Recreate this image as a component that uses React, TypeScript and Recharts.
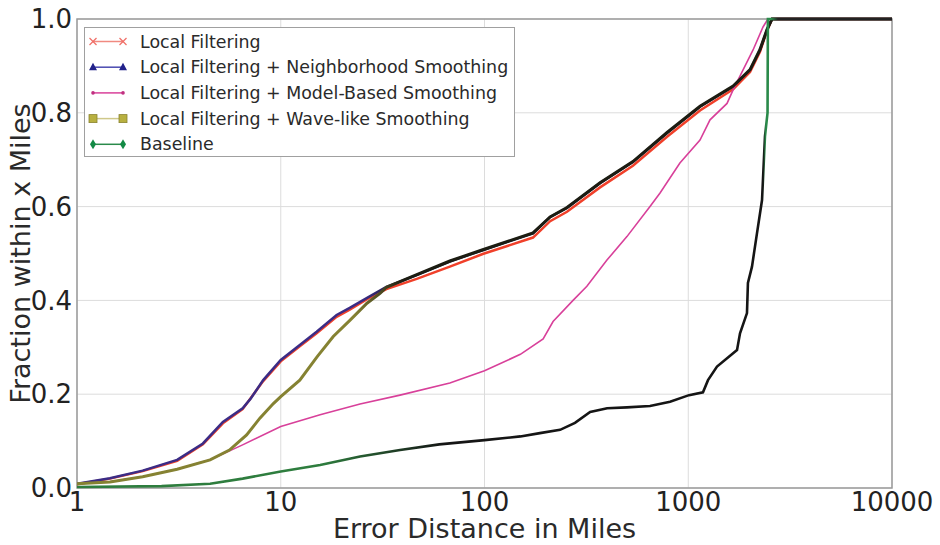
import { LineChart, Line, XAxis, YAxis, CartesianGrid, Legend, ReferenceArea, Label } from 'recharts';

const FONT = '"DejaVu Sans", Verdana, sans-serif';

const xTicks = [1, 10, 100, 1000, 10000];
const yTicks = [0, 0.2, 0.4, 0.6, 0.8, 1.0];

// (x in miles, y = fraction)
const localFiltering = [
  { x: 1, y: 0.008 }, { x: 1.45, y: 0.02 }, { x: 2.1, y: 0.036 }, { x: 3.1, y: 0.058 },
  { x: 4.15, y: 0.093 }, { x: 5.2, y: 0.138 }, { x: 6.5, y: 0.168 }, { x: 8.2, y: 0.228 },
  { x: 10, y: 0.27 }, { x: 12.4, y: 0.302 }, { x: 15, y: 0.33 }, { x: 18.8, y: 0.365 },
  { x: 21.8, y: 0.38 }, { x: 26.4, y: 0.402 }, { x: 33, y: 0.424 }, { x: 46.5, y: 0.446 },
  { x: 67.6, y: 0.472 }, { x: 98, y: 0.499 }, { x: 173, y: 0.534 }, { x: 210, y: 0.569 },
  { x: 254, y: 0.589 }, { x: 369, y: 0.641 }, { x: 535, y: 0.687 }, { x: 787, y: 0.749 },
  { x: 1142, y: 0.805 }, { x: 1660, y: 0.85 }, { x: 2010, y: 0.887 }, { x: 2250, y: 0.93 },
  { x: 2437, y: 0.975 }, { x: 2577, y: 1.0 }, { x: 10000, y: 1.0 },
];

const neighborhood = [
  { x: 1, y: 0.009 }, { x: 1.45, y: 0.021 }, { x: 2.1, y: 0.037 }, { x: 3.1, y: 0.06 },
  { x: 4.15, y: 0.095 }, { x: 5.2, y: 0.141 }, { x: 6.5, y: 0.17 }, { x: 7.1, y: 0.19 },
  { x: 8.2, y: 0.23 }, { x: 10, y: 0.273 }, { x: 12.4, y: 0.305 }, { x: 15, y: 0.333 },
  { x: 18.8, y: 0.369 }, { x: 21.8, y: 0.384 }, { x: 26.4, y: 0.405 }, { x: 33, y: 0.429 },
  { x: 46.5, y: 0.454 }, { x: 67.6, y: 0.483 }, { x: 98, y: 0.507 }, { x: 173, y: 0.543 },
  { x: 210, y: 0.578 }, { x: 254, y: 0.597 }, { x: 369, y: 0.65 }, { x: 535, y: 0.695 },
  { x: 787, y: 0.757 }, { x: 1142, y: 0.813 }, { x: 1660, y: 0.856 }, { x: 2010, y: 0.891 },
  { x: 2250, y: 0.934 }, { x: 2437, y: 0.977 }, { x: 2577, y: 1.0 }, { x: 10000, y: 1.0 },
];

const modelBased = [
  { x: 1, y: 0.009 }, { x: 1.45, y: 0.013 }, { x: 2.1, y: 0.024 }, { x: 3.1, y: 0.04 },
  { x: 4.5, y: 0.06 }, { x: 6.5, y: 0.092 }, { x: 10, y: 0.131 }, { x: 15.6, y: 0.156 },
  { x: 24.5, y: 0.179 }, { x: 38.5, y: 0.198 }, { x: 67.6, y: 0.224 }, { x: 100, y: 0.25 },
  { x: 150, y: 0.285 }, { x: 194, y: 0.318 }, { x: 217, y: 0.355 }, { x: 272, y: 0.4 },
  { x: 318, y: 0.43 }, { x: 399, y: 0.486 }, { x: 500, y: 0.536 }, { x: 649, y: 0.6 },
  { x: 727, y: 0.629 }, { x: 910, y: 0.693 }, { x: 1142, y: 0.742 }, { x: 1279, y: 0.785 },
  { x: 1550, y: 0.82 }, { x: 1660, y: 0.849 }, { x: 2080, y: 0.934 }, { x: 2328, y: 0.983 },
  { x: 2460, y: 1.0 }, { x: 10000, y: 1.0 },
];

const waveLike = [
  { x: 1, y: 0.009 }, { x: 1.45, y: 0.013 }, { x: 2.1, y: 0.024 }, { x: 3.1, y: 0.04 },
  { x: 4.5, y: 0.06 }, { x: 5.6, y: 0.081 }, { x: 6.8, y: 0.113 }, { x: 7.9, y: 0.149 },
  { x: 9.2, y: 0.18 }, { x: 10, y: 0.195 }, { x: 12.4, y: 0.23 }, { x: 15.1, y: 0.28 },
  { x: 18.1, y: 0.323 }, { x: 21.9, y: 0.358 }, { x: 26.5, y: 0.394 }, { x: 30.7, y: 0.415 },
  { x: 33, y: 0.428 }, { x: 46.5, y: 0.455 }, { x: 67.6, y: 0.484 }, { x: 98, y: 0.508 },
  { x: 173, y: 0.544 }, { x: 210, y: 0.578 }, { x: 254, y: 0.598 }, { x: 369, y: 0.651 },
  { x: 535, y: 0.696 }, { x: 787, y: 0.758 }, { x: 1142, y: 0.814 }, { x: 1660, y: 0.857 },
  { x: 2010, y: 0.892 }, { x: 2250, y: 0.935 }, { x: 2437, y: 0.978 }, { x: 2577, y: 1.0 },
  { x: 10000, y: 1.0 },
];

const baseline = [
  { x: 1, y: 0.002 }, { x: 2.6, y: 0.004 }, { x: 4.5, y: 0.009 }, { x: 6.5, y: 0.02 },
  { x: 10, y: 0.035 }, { x: 15.6, y: 0.049 }, { x: 24.5, y: 0.067 }, { x: 38.5, y: 0.081 },
  { x: 60, y: 0.093 }, { x: 100, y: 0.102 }, { x: 150, y: 0.11 }, { x: 187, y: 0.117 },
  { x: 235, y: 0.124 }, { x: 278, y: 0.139 }, { x: 330, y: 0.162 }, { x: 400, y: 0.17 },
  { x: 500, y: 0.172 }, { x: 649, y: 0.175 }, { x: 814, y: 0.184 }, { x: 1009, y: 0.198 },
  { x: 1181, y: 0.204 }, { x: 1250, y: 0.23 }, { x: 1384, y: 0.259 }, { x: 1735, y: 0.294 },
  { x: 1795, y: 0.33 }, { x: 1942, y: 0.373 }, { x: 1963, y: 0.437 }, { x: 2055, y: 0.472 },
  { x: 2174, y: 0.543 }, { x: 2302, y: 0.614 }, { x: 2380, y: 0.75 }, { x: 2450, y: 0.8 },
  { x: 2460, y: 1.0 }, { x: 10000, y: 1.0 },
];

const series = [
  { key: 'lf', name: 'Local Filtering', data: localFiltering, stroke: '#f0402a', width: 2.5, line: '#f08a80', marker: 'x', mark: '#f07068' },
  { key: 'ns', name: 'Local Filtering + Neighborhood Smoothing', data: neighborhood, stroke: 'url(#gradNs)', width: 2.5, line: '#4a4ab0', marker: 'triangle', mark: '#22228a' },
  { key: 'mb', name: 'Local Filtering + Model-Based Smoothing', data: modelBased, stroke: '#d8409a', width: 1.6, line: '#d8409a', marker: 'dot', mark: '#c03080' },
  { key: 'wl', name: 'Local Filtering + Wave-like Smoothing', data: waveLike, stroke: 'url(#gradWl)', width: 3, line: '#cfc88a', marker: 'square', mark: '#b8b040' },
  { key: 'bl', name: 'Baseline', data: baseline, stroke: 'url(#gradBl)', width: 2.6, line: '#2a8a4a', marker: 'diamond', mark: '#138a45' },
];

const Marker = ({ type, cx, cy, color }: any) => {
  if (type === 'x') {
    return (
      <g stroke={color} strokeWidth={1.2}>
        <line x1={cx - 3.5} y1={cy - 3.5} x2={cx + 3.5} y2={cy + 3.5} />
        <line x1={cx - 3.5} y1={cy + 3.5} x2={cx + 3.5} y2={cy - 3.5} />
      </g>
    );
  }
  if (type === 'triangle') {
    return <polygon points={`${cx},${cy - 4.5} ${cx - 4},${cy + 3} ${cx + 4},${cy + 3}`} fill={color} />;
  }
  if (type === 'dot') return <circle cx={cx} cy={cy} r={1.8} fill={color} />;
  if (type === 'square') {
    return <rect x={cx - 4} y={cy - 4} width={8} height={8} fill={color} stroke="#8a8430" strokeWidth={0.8} />;
  }
  return <polygon points={`${cx},${cy - 5} ${cx - 3},${cy} ${cx},${cy + 5} ${cx + 3},${cy}`} fill={color} />;
};

const LegendBox = () => (
  <div style={{ width: 431, height: 130, border: '1.5px solid #a0a0a0', background: '#fff', boxSizing: 'border-box' }}>
    <svg width={428} height={127} style={{ display: 'block' }}>
      {series.map((s, i) => {
        const cy = 13.5 + i * 25.7;
        return (
          <g key={s.key}>
            <line x1={8} y1={cy} x2={38} y2={cy} stroke={s.line} strokeWidth={1.5} />
            <Marker type={s.marker} cx={8} cy={cy} color={s.mark} />
            <Marker type={s.marker} cx={38} cy={cy} color={s.mark} />
            <text x={55} y={cy} dominantBaseline="central" fontSize={17.4} fontFamily={FONT} fill="#2a2a2a">
              {s.name}
            </text>
          </g>
        );
      })}
    </svg>
  </div>
);

const XTitle = ({ viewBox }: any) => (
  <text x={viewBox.x + viewBox.width / 2} y={538} textAnchor="middle" fontSize={27} fontFamily={FONT} fill="#2a2a2a">
    Error Distance in Miles
  </text>
);

const YTitle = ({ viewBox }: any) => {
  const cy = viewBox.y + viewBox.height / 2;
  return (
    <text x={20} y={cy} transform={`rotate(-90 20 ${cy})`} textAnchor="middle" dominantBaseline="central" fontSize={27} fontFamily={FONT} fill="#2a2a2a">
      Fraction within x Miles
    </text>
  );
};

export default function App() {
  return (
    <div style={{ position: 'absolute', left: 0, top: 0, width: 940, height: 545, background: '#fff' }}>
      <LineChart width={940} height={545} margin={{ top: 19, right: 48, bottom: 0, left: 0 }}>
        <defs>
          <linearGradient id="gradNs" x1="0" y1="0" x2="1" y2="0">
            <stop offset="0" stopColor="#3b2c86" />
            <stop offset="0.35" stopColor="#3b2c86" />
            <stop offset="0.4" stopColor="#181830" />
            <stop offset="1" stopColor="#181830" />
          </linearGradient>
          <linearGradient id="gradWl" x1="0" y1="0" x2="1" y2="0">
            <stop offset="0" stopColor="#858232" />
            <stop offset="0.34" stopColor="#858232" />
            <stop offset="0.4" stopColor="#1c1c12" />
            <stop offset="1" stopColor="#1c1c12" />
          </linearGradient>
          <linearGradient id="gradBl" x1="0" y1="0" x2="1" y2="0">
            <stop offset="0" stopColor="#2e7d3e" />
            <stop offset="0.3" stopColor="#2e7d3e" />
            <stop offset="0.45" stopColor="#151515" />
            <stop offset="0.842" stopColor="#151515" />
            <stop offset="0.845" stopColor="#2a8a4a" />
            <stop offset="0.852" stopColor="#2a8a4a" />
            <stop offset="0.86" stopColor="#222" />
            <stop offset="1" stopColor="#222" />
          </linearGradient>
        </defs>
        <CartesianGrid stroke="#dcdcdc" strokeWidth={1} />
        <XAxis
          dataKey="x"
          type="number"
          scale="log"
          domain={[1, 10000]}
          ticks={xTicks}
          allowDataOverflow
          height={57}
          axisLine={false}
          tickLine={false}
          tickSize={0}
          tickMargin={5}
          tick={{ fontSize: 26, fontFamily: FONT, fill: '#222' }}
          label={<Label content={XTitle} />}
        />
        <YAxis
          type="number"
          domain={[0, 1]}
          ticks={yTicks}
          width={77}
          axisLine={false}
          tickLine={false}
          tickSize={0}
          tickMargin={5}
          tickFormatter={(v: number) => v.toFixed(1)}
          tick={{ fontSize: 26, fontFamily: FONT, fill: '#222' }}
          label={<Label content={YTitle} />}
        />
        {series.map((s) => (
          <Line
            key={s.key}
            data={s.data}
            dataKey="y"
            name={s.name}
            type="linear"
            stroke={s.stroke}
            strokeWidth={s.width}
            dot={false}
            activeDot={false}
            isAnimationActive={false}
          />
        ))}
        <ReferenceArea x1={1} x2={10000} y1={0} y2={1} fill="none" stroke="#9a9a9a" strokeWidth={1.5} ifOverflow="visible" />
        <Legend
          layout="vertical"
          align="center"
          verticalAlign="middle"
          content={LegendBox}
          wrapperStyle={{ left: 84, top: 27, width: 431 }}
        />
      </LineChart>
    </div>
  );
}
